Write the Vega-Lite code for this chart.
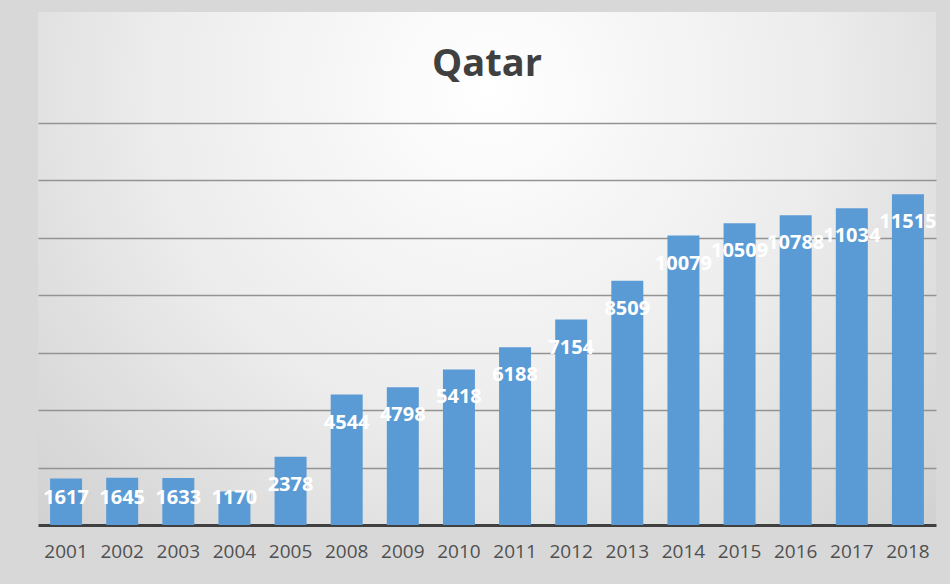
{
  "$schema": "https://vega.github.io/schema/vega-lite/v6.json",
  "width": 898,
  "height": 513,
  "autosize": {"type": "none"},
  "padding": {"left": 38, "top": 12, "right": 14, "bottom": 59},
  "background": "#d8d8d8",
  "title": {
    "text": "Qatar",
    "font": "Open Sans",
    "fontSize": 38,
    "fontWeight": "bold",
    "color": "#404040",
    "anchor": "middle",
    "offset": 0,
    "dy": 72
  },
  "config": {
    "view": {
      "stroke": null,
      "fill": {
        "gradient": "radial",
        "x1": 0.5, "y1": 0.3, "r1": 0,
        "x2": 0.5, "y2": 0.3, "r2": 0.75,
        "stops": [
          {"offset": 0, "color": "#ffffff"},
          {"offset": 0.5, "color": "#ececec"},
          {"offset": 1, "color": "#cdcdcd"}
        ]
      }
    },
    "font": "Open Sans"
  },
  "data": {
    "values": [
      {"year": "2001", "value": 1617},
      {"year": "2002", "value": 1645},
      {"year": "2003", "value": 1633},
      {"year": "2004", "value": 1170},
      {"year": "2005", "value": 2378},
      {"year": "2008", "value": 4544},
      {"year": "2009", "value": 4798},
      {"year": "2010", "value": 5418},
      {"year": "2011", "value": 6188},
      {"year": "2012", "value": 7154},
      {"year": "2013", "value": 8509},
      {"year": "2014", "value": 10079},
      {"year": "2015", "value": 10509},
      {"year": "2016", "value": 10788},
      {"year": "2017", "value": 11034},
      {"year": "2018", "value": 11515}
    ]
  },
  "encoding": {
    "x": {
      "field": "year",
      "type": "ordinal",
      "sort": null,
      "scale": {"paddingInner": 0.43, "paddingOuter": 0.215},
      "axis": {
        "title": null,
        "labelAngle": 0,
        "labelFontSize": 19,
        "labelColor": "#505050",
        "labelPadding": 17,
        "ticks": false,
        "domain": true,
        "domainColor": "#404040",
        "domainWidth": 3,
        "grid": false
      }
    },
    "y": {
      "field": "value",
      "type": "quantitative",
      "scale": {"domain": [0, 17866], "nice": false},
      "axis": {
        "title": null,
        "labels": false,
        "ticks": false,
        "domain": false,
        "grid": true,
        "gridColor": "#939393",
        "gridWidth": 1.5,
        "values": [2000, 4000, 6000, 8000, 10000, 12000, 14000]
      }
    }
  },
  "layer": [
    {
      "mark": {"type": "bar", "color": "#5b9bd5"}
    },
    {
      "mark": {
        "type": "text",
        "color": "#ffffff",
        "fontSize": 20,
        "fontWeight": "bold",
        "baseline": "middle",
        "align": "center",
        "dy": {"expr": "datum.value < 2000 ? scale('y', 940) - scale('y', datum.value) : 28"}
      },
      "encoding": {
        "text": {"field": "value", "type": "quantitative", "format": "d"}
      }
    }
  ]
}
